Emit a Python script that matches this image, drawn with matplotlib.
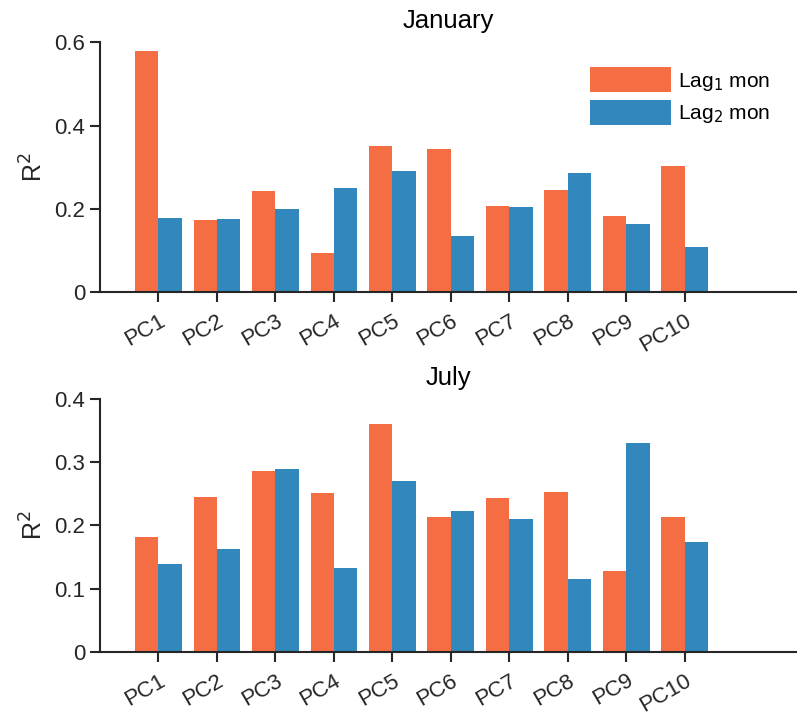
import numpy as np
import matplotlib.pyplot as plt

plt.rcParams['font.family'] = ['Liberation Sans', 'DejaVu Sans']

pcs = ['PC1', 'PC2', 'PC3', 'PC4', 'PC5', 'PC6', 'PC7', 'PC8', 'PC9', 'PC10']
jan_lag1 = [0.578, 0.173, 0.242, 0.094, 0.350, 0.343, 0.206, 0.245, 0.182, 0.302]
jan_lag2 = [0.178, 0.175, 0.199, 0.250, 0.290, 0.134, 0.204, 0.286, 0.163, 0.108]
jul_lag1 = [0.181, 0.245, 0.286, 0.251, 0.360, 0.213, 0.243, 0.253, 0.128, 0.213]
jul_lag2 = [0.139, 0.163, 0.289, 0.133, 0.270, 0.223, 0.210, 0.115, 0.330, 0.174]

c1 = '#f46d43'
c2 = '#3288bd'
fs = 16
tc = '#262626'

fig = plt.figure(figsize=(7.97, 7.16), dpi=100)
ax1 = fig.add_axes([0.1255, 0.592, 0.8745, 0.349])
ax2 = fig.add_axes([0.1255, 0.0894, 0.8745, 0.3534])

x = np.arange(len(pcs))
w = 0.4

def draw(ax, a, b, title, ymax, yticks, yticklabels, legend=False):
    ax.bar(x - w / 2, a, w, color=c1, label='Lag$_1$ mon')
    ax.bar(x + w / 2, b, w, color=c2, label='Lag$_2$ mon')
    ax.set_xlim(-1, 10.92)
    ax.set_ylim(0, ymax)
    ax.set_yticks(yticks)
    ax.set_yticklabels(yticklabels, fontsize=fs, color=tc)
    ax.set_xticks(x)
    ax.set_xticklabels(pcs, rotation=30, ha='right', rotation_mode='anchor',
                       fontsize=fs, color=tc)
    ax.set_ylabel('R$^2$', fontsize=18, color=tc, labelpad=5)
    ax.set_title(title, fontsize=18.5, pad=10)
    for s in ['top', 'right']:
        ax.spines[s].set_visible(False)
    for s in ['left', 'bottom']:
        ax.spines[s].set_linewidth(1.5)
        ax.spines[s].set_color(tc)
    ax.tick_params(width=1.5, length=7, color=tc)
    ax.tick_params(axis='x', pad=6)
    if legend:
        ax.legend(frameon=False, fontsize=15, handlelength=3.9, handleheight=1.45,
                  labelspacing=0.35, handletextpad=0.35, loc='upper right',
                  bbox_to_anchor=(0.98, 0.95), borderaxespad=0.2)

draw(ax1, jan_lag1, jan_lag2, 'January', 0.6, [0, 0.2, 0.4, 0.6], ['0', '0.2', '0.4', '0.6'], legend=True)
draw(ax2, jul_lag1, jul_lag2, 'July', 0.4, [0, 0.1, 0.2, 0.3, 0.4], ['0', '0.1', '0.2', '0.3', '0.4'])

fig.savefig('out.png', dpi=100)
